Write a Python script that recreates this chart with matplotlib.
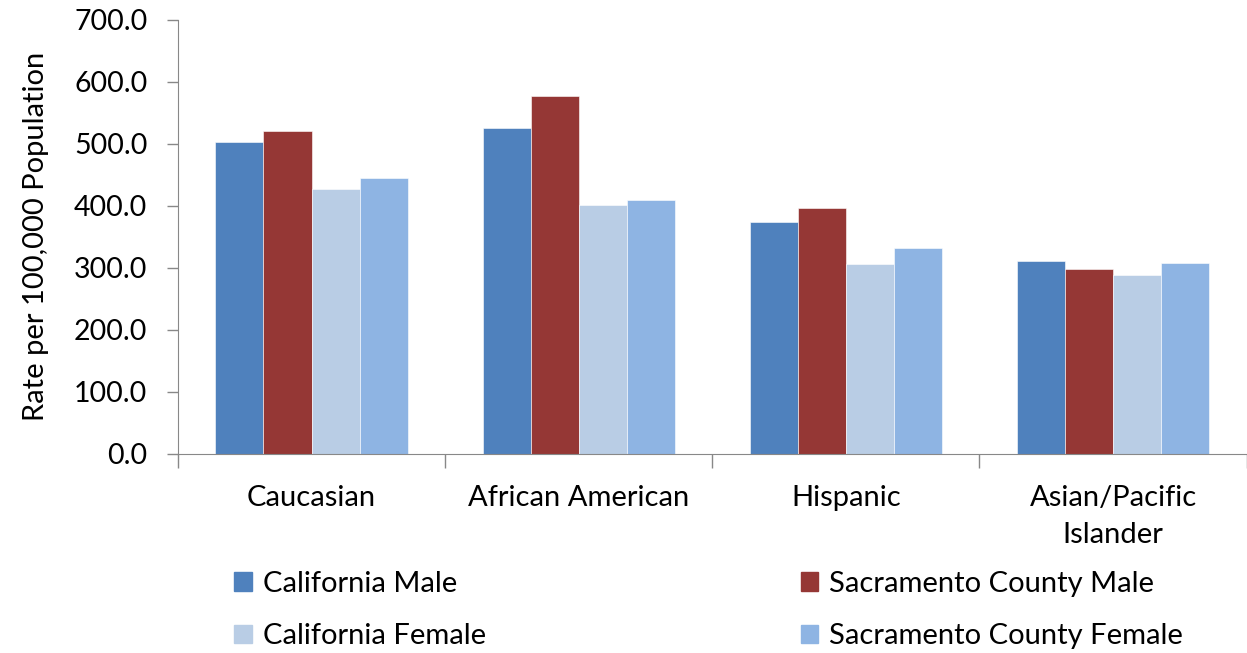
import numpy as np
import matplotlib.pyplot as plt
from matplotlib.patches import Patch

# categories and series
categories = ["Caucasian", "African American", "Hispanic", "Asian/Pacific\nIslander"]
ca_male = [502.5, 525.0, 373.0, 311.0]
sac_male = [520.0, 577.0, 396.0, 298.0]
ca_female = [427.0, 401.0, 306.0, 288.0]
sac_female = [445.0, 409.0, 331.0, 308.0]

series_names = ["California Male", "Sacramento County Male",
                "California Female", "Sacramento County Female"]
colors = ["#4F81BD", "#953735", "#B9CDE5", "#8EB4E3"]

plt.rcParams['font.family'] = ['Lato', 'DejaVu Sans']

fig = plt.figure(figsize=(12.47, 6.53), dpi=100)
ax = fig.add_axes([0.1427, 0.3055, 0.857, 0.664])

x = np.arange(len(categories))
w = 0.18
all_series = [ca_male, sac_male, ca_female, sac_female]
for i, vals in enumerate(all_series):
    ax.bar(x + (i - 1.5) * w, vals, width=w, color=colors[i],
           edgecolor='white', linewidth=0.4, label=series_names[i])

ax.set_xlim(-0.5, len(categories) - 0.5)
ax.set_ylim(0, 700)
ax.set_yticks(np.arange(0, 701, 100))
ax.set_yticklabels([f"{v:.1f}" for v in np.arange(0, 701, 100)], fontsize=20.5)
ax.set_ylabel("Rate per 100,000 Population", fontsize=21, labelpad=18)

ax.set_xticks(x)
ax.set_xticklabels(categories, fontsize=21, linespacing=1.5)
ax.set_xticks(np.arange(-0.5, len(categories)), minor=True)
ax.tick_params(axis='x', which='major', length=0, pad=23)
ax.tick_params(axis='x', which='minor', length=10, color='#888888', width=1)
ax.tick_params(axis='y', length=8, color='#888888', width=1, pad=14)

for s in ['top', 'right']:
    ax.spines[s].set_visible(False)
ax.spines['left'].set_color('#888888')
ax.spines['bottom'].set_color('#888888')

# legend in two columns, row order like the original
handles = [Patch(color=colors[i]) for i in [0, 2, 1, 3]]
labels = [series_names[i] for i in [0, 2, 1, 3]]
fig.legend(handles, labels, ncol=2, loc='upper left',
           bbox_to_anchor=(0.1877, 0.126), frameon=False, fontsize=21,
           handlelength=0.6, handleheight=0.6, handletextpad=0.38,
           columnspacing=10.8, labelspacing=0.91, borderpad=0, borderaxespad=0)

fig.savefig("out.png", dpi=100)
